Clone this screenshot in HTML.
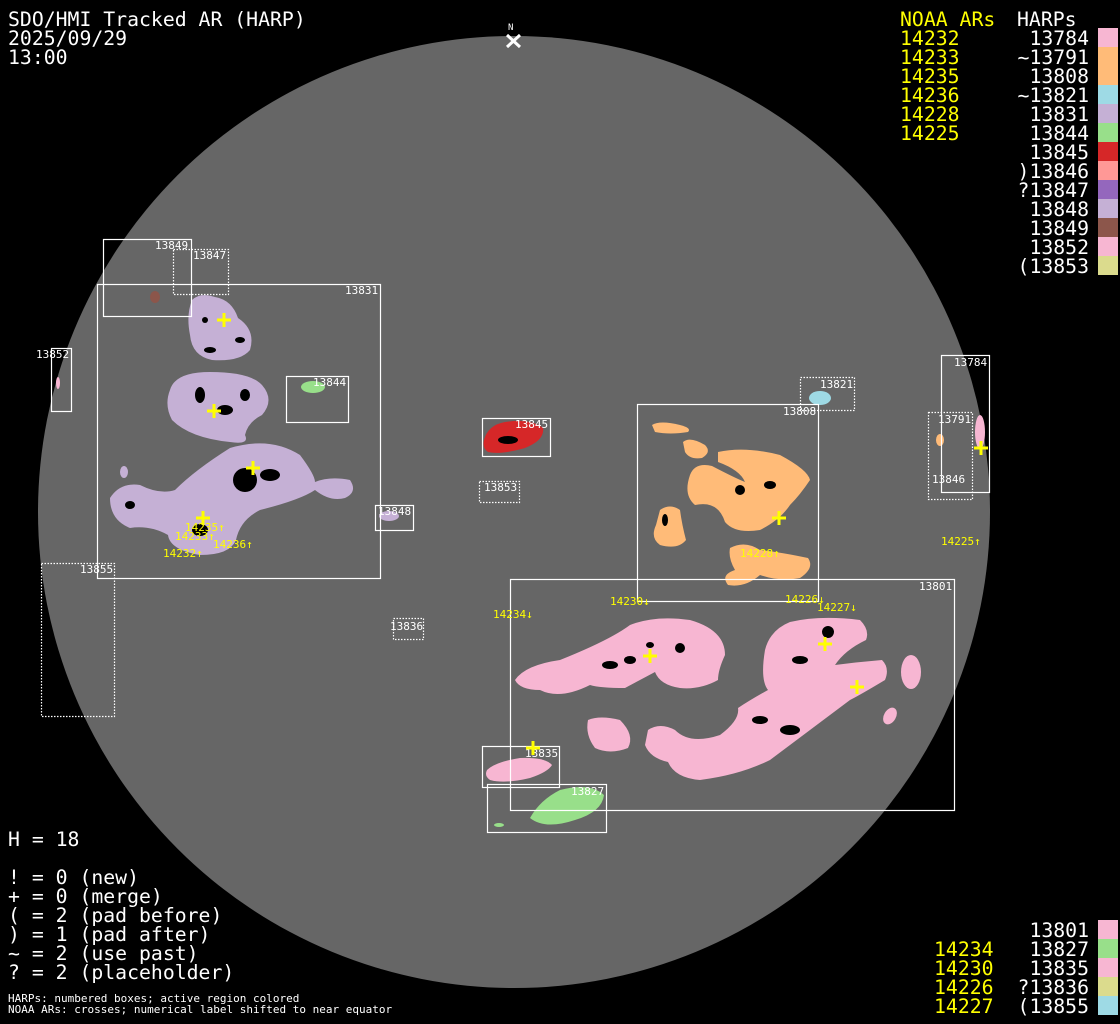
<!DOCTYPE html>
<html><head><meta charset="utf-8"><style>
html,body{margin:0;padding:0;background:#000;}
svg{display:block;}
.t{font-family:"DejaVu Sans Mono","Liberation Mono",monospace;font-size:19.8px;fill:#fff;}
.y{fill:#ffff00;}
.s{font-family:"DejaVu Sans Mono","Liberation Mono",monospace;font-size:11px;fill:#fff;}
.sy{font-family:"DejaVu Sans Mono","Liberation Mono",monospace;font-size:11px;fill:#ffff00;}
.b{fill:none;stroke:#fff;stroke-width:1.2;}
.d{fill:none;stroke:#fff;stroke-width:1.2;stroke-dasharray:1.5 1.5;}
.c{stroke:#ffff00;stroke-width:3;fill:none;}
</style></head><body>
<svg width="1120" height="1024" viewBox="0 0 1120 1024" xmlns="http://www.w3.org/2000/svg">
<rect width="1120" height="1024" fill="#000"/>
<circle cx="514" cy="512" r="476" fill="#666"/>
<text x="508" y="30" class="s" style="font-size:9px">N</text>
<path d="M507 35 L520 47 M520 35 L507 47" stroke="#fff" stroke-width="3"/>

<g fill="#c5b0d5">
<path d="M192 300 Q200 292 215 297 Q232 300 238 318 Q256 330 250 350 Q240 362 212 360 Q192 356 190 335 Q186 315 192 300Z"/>
<path d="M170 390 Q175 372 210 372 Q250 372 262 385 Q275 400 262 415 Q248 422 245 435 Q250 445 230 442 Q190 438 172 420 Q164 405 170 390Z"/>
<path d="M110 498 Q120 482 140 485 Q160 495 175 490 Q195 470 230 448 Q270 436 300 455 Q315 475 315 482 Q330 476 350 480 Q358 492 345 498 Q330 502 315 490 Q300 500 260 510 Q240 520 236 540 Q230 555 200 555 Q170 550 168 535 Q150 525 130 528 Q110 520 110 498Z"/>
<ellipse cx="124" cy="472" rx="4" ry="6"/>
<ellipse cx="389" cy="516" rx="10" ry="5"/>
</g>
<ellipse cx="313" cy="387" rx="12" ry="6" fill="#98df8a"/>
<path d="M530 818 Q540 800 560 790 Q590 782 604 795 Q602 812 575 820 Q545 830 530 818Z" fill="#98df8a"/>
<ellipse cx="499" cy="825" rx="5" ry="2" fill="#98df8a"/>
<ellipse cx="155" cy="297" rx="5" ry="6" fill="#8c564b"/>
<ellipse cx="58" cy="383" rx="2" ry="6" fill="#f7b6d2"/>
<path d="M484 440 Q488 425 505 422 Q530 418 543 428 Q545 440 525 448 Q500 455 488 452 Q482 448 484 440Z" fill="#d62728"/>
<ellipse cx="820" cy="398" rx="11" ry="7" fill="#9edae5"/>
<g fill="#ffbb78">
<path d="M652 425 Q660 420 680 425 Q692 428 688 432 Q670 435 655 432Z"/>
<path d="M683 442 Q690 436 705 445 Q712 452 702 458 Q690 460 685 452Z"/>
<path d="M718 452 Q745 446 780 455 Q808 470 810 480 Q800 495 790 505 Q780 520 760 530 Q735 534 725 522 Q718 500 695 505 Q683 495 690 475 Q695 462 712 466 Q735 478 745 482 Q740 470 718 462Z"/>
<path d="M660 510 Q670 503 680 510 Q682 525 686 540 Q678 550 660 545 Q650 538 656 525Z"/>
<path d="M730 548 Q745 540 760 550 Q780 552 808 558 Q815 568 800 578 Q780 582 760 575 Q745 588 728 585 Q720 575 735 570 Q728 558 730 548Z"/>
<ellipse cx="940" cy="440" rx="4" ry="6"/>
</g>
<ellipse cx="980" cy="432" rx="5" ry="17" fill="#f7b6d2"/>
<g fill="#f7b6d2">
<path d="M515 680 Q525 665 560 660 Q610 640 630 625 Q655 615 690 620 Q725 630 725 655 Q718 670 718 680 Q700 690 680 688 Q660 685 655 672 Q640 680 625 688 Q600 688 590 685 Q560 700 540 690 Q520 690 515 680Z"/>
<path d="M588 720 Q600 715 620 720 Q635 735 628 748 Q610 755 595 748 Q585 735 588 720Z"/>
<path d="M648 730 Q660 722 675 730 Q690 745 720 735 Q740 720 738 708 Q750 700 768 690 Q760 680 765 650 Q770 630 790 622 Q820 615 860 620 Q870 630 866 640 Q845 650 835 665 Q858 662 882 660 Q890 668 885 680 Q860 695 850 700 Q830 715 810 730 Q790 745 770 760 Q740 775 700 780 Q675 778 668 762 Q650 758 645 745Z"/>
<ellipse cx="911" cy="672" rx="10" ry="17"/>
<ellipse cx="890" cy="716" rx="6" ry="9" transform="rotate(30 890 716)"/>
<path d="M487 770 Q495 762 520 758 Q545 757 552 765 Q548 772 530 778 Q505 784 490 780 Q484 776 487 770Z"/>
</g>

<g fill="#000">
<ellipse cx="205" cy="320" rx="3" ry="3"/><ellipse cx="240" cy="340" rx="5" ry="3"/><ellipse cx="210" cy="350" rx="6" ry="3"/>
<ellipse cx="200" cy="395" rx="5" ry="8"/><ellipse cx="225" cy="410" rx="8" ry="5"/><ellipse cx="245" cy="395" rx="5" ry="6"/>
<ellipse cx="245" cy="480" rx="12" ry="12"/><ellipse cx="270" cy="475" rx="10" ry="6"/><ellipse cx="130" cy="505" rx="5" ry="4"/>
<ellipse cx="200" cy="530" rx="8" ry="6"/><ellipse cx="508" cy="440" rx="10" ry="4"/>
<ellipse cx="680" cy="648" rx="5" ry="5"/><ellipse cx="650" cy="645" rx="4" ry="3"/><ellipse cx="610" cy="665" rx="8" ry="4"/><ellipse cx="630" cy="660" rx="6" ry="4"/>
<ellipse cx="828" cy="632" rx="6" ry="6"/><ellipse cx="800" cy="660" rx="8" ry="4"/><ellipse cx="790" cy="730" rx="10" ry="5"/><ellipse cx="760" cy="720" rx="8" ry="4"/>
<ellipse cx="740" cy="490" rx="5" ry="5"/><ellipse cx="770" cy="485" rx="6" ry="4"/><ellipse cx="665" cy="520" rx="3" ry="6"/>
</g>

<rect class="b" x="103.5" y="239.5" width="88" height="77"/>
<rect class="d" x="173.5" y="249.5" width="55" height="45"/>
<rect class="b" x="97.5" y="284.5" width="283" height="294"/>
<rect class="b" x="51.5" y="348.5" width="20" height="63"/>
<rect class="b" x="286.5" y="376.5" width="62" height="46"/>
<rect class="b" x="375.5" y="505.5" width="38" height="25"/>
<rect class="d" x="41.5" y="563.5" width="73" height="153"/>
<rect class="b" x="482.5" y="418.5" width="68" height="38"/>
<rect class="d" x="479.5" y="481.5" width="40" height="21"/>
<rect class="d" x="393.5" y="618.5" width="30" height="21"/>
<rect class="d" x="800.5" y="377.5" width="54" height="33"/>
<rect class="b" x="637.5" y="404.5" width="181" height="197"/>
<rect class="b" x="941.5" y="355.5" width="48" height="137"/>
<rect class="d" x="928.5" y="412.5" width="44" height="87"/>
<rect class="b" x="510.5" y="579.5" width="444" height="231"/>
<rect class="b" x="482.5" y="746.5" width="77" height="41"/>
<rect class="b" x="487.5" y="784.5" width="119" height="48"/>

<text class="s" x="155" y="249">13849</text>
<text class="s" x="193" y="259">13847</text>
<text class="s" x="345" y="294">13831</text>
<text class="s" x="36" y="358">13852</text>
<text class="s" x="313" y="386">13844</text>
<text class="s" x="378" y="515">13848</text>
<text class="s" x="80" y="573">13855</text>
<text class="s" x="515" y="428">13845</text>
<text class="s" x="484" y="491">13853</text>
<text class="s" x="390" y="630">13836</text>
<text class="s" x="820" y="388">13821</text>
<text class="s" x="783" y="415">13808</text>
<text class="s" x="954" y="366">13784</text>
<text class="s" x="938" y="423">13791</text>
<text class="s" x="932" y="483">13846</text>
<text class="s" x="919" y="590">13801</text>
<text class="s" x="525" y="757">13835</text>
<text class="s" x="571" y="795">13827</text>

<g class="c">
<path d="M224 313v14M217 320h14"/><path d="M214 404v14M207 411h14"/><path d="M253 461v14M246 468h14"/>
<path d="M203 511v14M196 518h14"/><path d="M779 511v14M772 518h14"/><path d="M981 441v14M974 448h14"/>
<path d="M650 649v14M643 656h14"/><path d="M825 637v14M818 644h14"/><path d="M857 680v14M850 687h14"/>
<path d="M533 741v14M526 748h14"/>
</g>
<text class="sy" x="185" y="531">14235↑</text>
<text class="sy" x="175" y="540">14233↑</text>
<text class="sy" x="213" y="548">14236↑</text>
<text class="sy" x="163" y="557">14232↑</text>
<text class="sy" x="740" y="557">14228↑</text>
<text class="sy" x="941" y="545">14225↑</text>
<text class="sy" x="493" y="618">14234↓</text>
<text class="sy" x="610" y="605">14230↓</text>
<text class="sy" x="785" y="603">14226↓</text>
<text class="sy" x="817" y="611">14227↓</text>

<text class="t" x="8" y="26">SDO/HMI Tracked AR (HARP)</text>
<text class="t" x="8" y="45">2025/09/29</text>
<text class="t" x="8" y="64">13:00</text>

<text class="t y" x="900" y="26">NOAA ARs</text>
<text class="t" x="1017" y="26">HARPs</text>
<g class="t y">
<text x="900" y="45">14232</text><text x="900" y="64">14233</text><text x="900" y="83">14235</text>
<text x="900" y="102">14236</text><text x="900" y="121">14228</text><text x="900" y="140">14225</text>
</g>
<g class="t" text-anchor="end">
<text x="1089" y="45">13784</text><text x="1089" y="64">~13791</text><text x="1089" y="83">13808</text>
<text x="1089" y="102">~13821</text><text x="1089" y="121">13831</text><text x="1089" y="140">13844</text>
<text x="1089" y="159">13845</text><text x="1089" y="178">)13846</text><text x="1089" y="197">?13847</text>
<text x="1089" y="216">13848</text><text x="1089" y="235">13849</text><text x="1089" y="254">13852</text>
<text x="1089" y="273">(13853</text>
</g>
<rect x="1098" y="28" width="20" height="19" fill="#f7b6d2"/>
<rect x="1098" y="47" width="20" height="38" fill="#ffbb78"/>
<rect x="1098" y="85" width="20" height="19" fill="#9edae5"/>
<rect x="1098" y="104" width="20" height="19" fill="#c5b0d5"/>
<rect x="1098" y="123" width="20" height="19" fill="#98df8a"/>
<rect x="1098" y="142" width="20" height="19" fill="#d62728"/>
<rect x="1098" y="161" width="20" height="19" fill="#ff9896"/>
<rect x="1098" y="180" width="20" height="19" fill="#9467bd"/>
<rect x="1098" y="199" width="20" height="19" fill="#c5b0d5"/>
<rect x="1098" y="218" width="20" height="19" fill="#8c564b"/>
<rect x="1098" y="237" width="20" height="19" fill="#f7b6d2"/>
<rect x="1098" y="256" width="20" height="19" fill="#dbdb8d"/>

<g class="t y">
<text x="934" y="956">14234</text><text x="934" y="975">14230</text><text x="934" y="994">14226</text><text x="934" y="1013">14227</text>
</g>
<g class="t" text-anchor="end">
<text x="1089" y="937">13801</text><text x="1089" y="956">13827</text><text x="1089" y="975">13835</text>
<text x="1089" y="994">?13836</text><text x="1089" y="1013">(13855</text>
</g>
<rect x="1098" y="920" width="20" height="19" fill="#f7b6d2"/>
<rect x="1098" y="939" width="20" height="19" fill="#98df8a"/>
<rect x="1098" y="958" width="20" height="19" fill="#f7b6d2"/>
<rect x="1098" y="977" width="20" height="19" fill="#dbdb8d"/>
<rect x="1098" y="996" width="20" height="19" fill="#9edae5"/>

<text class="t" x="8" y="846">H = 18</text>
<text class="t" x="8" y="884">! = 0 (new)</text>
<text class="t" x="8" y="903">+ = 0 (merge)</text>
<text class="t" x="8" y="922">( = 2 (pad before)</text>
<text class="t" x="8" y="941">) = 1 (pad after)</text>
<text class="t" x="8" y="960">~ = 2 (use past)</text>
<text class="t" x="8" y="979">? = 2 (placeholder)</text>
<text class="s" x="8" y="1002">HARPs: numbered boxes; active region colored</text>
<text class="s" x="8" y="1013">NOAA ARs: crosses; numerical label shifted to near equator</text>
</svg>
</body></html>
